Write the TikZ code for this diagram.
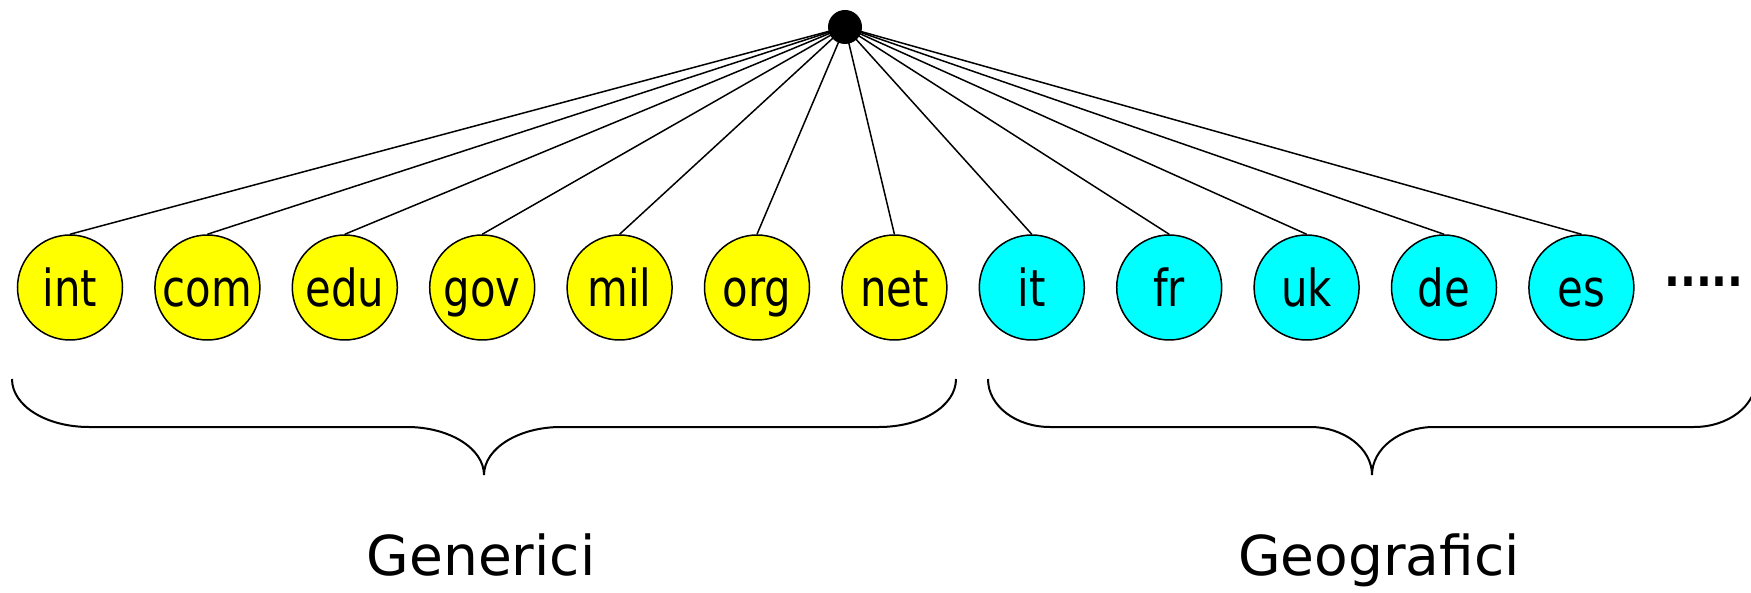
\documentclass[tikz,border=0pt]{standalone}
\usepackage{fontspec}
\setmainfont{DejaVu Sans}
\newfontfamily\narrowfont{DejaVu Sans}[FakeStretch=0.82]
\definecolor{genyellow}{RGB}{255,255,0}
\definecolor{geocyan}{RGB}{0,255,255}

\begin{document}
\begin{tikzpicture}[x=1pt,y=-1pt,
    dom/.style={circle,draw,line width=1.5pt,minimum size=105pt,inner sep=0pt,
      text height=39pt,text depth=0pt,font=\narrowfont\fontsize{51}{60}\selectfont},
    gen/.style={dom,fill=genyellow},
    geo/.style={dom,fill=geocyan},
    brace/.style={line width=2pt},
    grouplabel/.style={anchor=base,inner sep=0pt,font=\fontsize{55}{66}\selectfont}]
    \useasboundingbox (0,0) rectangle (1751,593);
    \node[circle,fill=black,minimum size=34pt,inner sep=0pt] (root) at (845,27) {};
    \foreach \dom [count=\i from 0] in {int,com,edu,gov,mil,org,net} {
      \node[gen] (\dom) at ({70+137.4*\i},287.5) {\dom};
      \draw[line width=1.5pt] (root.center) -- (\dom.north);
    }
    \foreach \dom [count=\i from 7] in {it,fr,uk,de,es} {
      \node[geo] (\dom) at ({70+137.4*\i},287.5) {\dom};
      \draw[line width=1.5pt] (root.center) -- (\dom.north);
    }
    \node[anchor=base west,inner sep=0pt,font=\narrowfont\bfseries\fontsize{51}{60}\selectfont] (more) at (1664,287) {.....};
    % braces
    \draw[brace] (12,379) .. controls (12,406) and (46.5,427) .. (89,427) -- (407,427)
      .. controls (449.5,427) and (484,448.5) .. (484,475)
      .. controls (484,448.5) and (518.5,427) .. (561,427) -- (879,427)
      .. controls (921.5,427) and (956,406) .. (956,379);
    \draw[brace] (988,379) .. controls (988,406) and (1016,427) .. (1050,427) -- (1310,427)
      .. controls (1344,427) and (1372,448.5) .. (1372,475)
      .. controls (1372,448.5) and (1400,427) .. (1434,427) -- (1694,427)
      .. controls (1728,427) and (1756,406) .. (1756,379);
    \node[grouplabel] (generici) at (481,575) {Generici};
    \node[grouplabel] (geografici) at (1379,575) {Geografici};
  \end{tikzpicture}
\end{document}
